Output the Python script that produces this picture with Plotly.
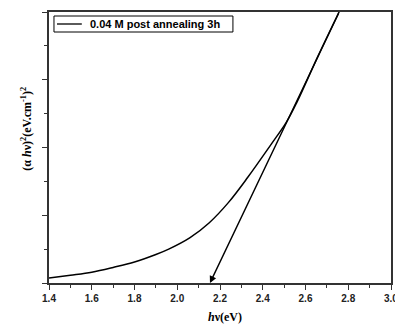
import plotly.graph_objects as go

# photon energy (eV) and (alpha h nu)^2 (arb. units)
energy = [1.40, 1.50, 1.60, 1.70, 1.80, 1.90, 1.96, 2.06, 2.15, 2.24, 2.33, 2.44, 2.51, 2.56, 2.66, 2.76, 2.80]
absorb = [0.074, 0.115, 0.16, 0.23, 0.31, 0.42, 0.50, 0.67, 0.89, 1.19, 1.56, 2.05, 2.37, 2.67, 3.36, 4.02, 4.28]

# tangent (extrapolation) line end points
tangent_x = [2.758, 2.153]
tangent_y = [4.0, 0.0]

series_name = "0.04 M post annealing 3h"
x_ticks = [1.4, 1.6, 1.8, 2.0, 2.2, 2.4, 2.6, 2.8, 3.0]
x_tick_labels = ["1.4", "1.6", "1.8", "2.0", "2.2", "2.4", "2.6", "2.8", "3.0"]

fig = go.Figure()
fig.add_trace(go.Scatter(x=energy, y=absorb, mode="lines",
                         line=dict(color="black", width=1.5, shape="spline", smoothing=1.0),
                         name=series_name, showlegend=False))

fig.add_annotation(x=tangent_x[1], y=tangent_y[1], ax=tangent_x[0], ay=tangent_y[0],
                   xref="x", yref="y", axref="x", ayref="y", text="",
                   showarrow=True, arrowhead=2, arrowsize=1.0, arrowwidth=1.4,
                   arrowcolor="black", standoff=0)

axis_common = dict(showline=True, linecolor="#333", linewidth=1.5, mirror=True,
                   showgrid=False, zeroline=False, ticks="outside",
                   tickcolor="#333", ticklen=5, tickwidth=1)

tick_font = dict(family="Liberation Sans", size=10, color="#222", weight="bold")
fig.update_xaxes(range=[1.4, 3.0], tickvals=x_ticks, ticktext=x_tick_labels,
                 tickfont=tick_font,
                 minor=dict(dtick=0.1, ticks="outside", ticklen=3, tickcolor="#333"),
                 **axis_common)
fig.update_yaxes(range=[0, 4], dtick=1, showticklabels=False,
                 minor=dict(dtick=0.5, ticks="outside", ticklen=3, tickcolor="#333"),
                 **axis_common)

# last tick label, partly cut by the page edge as in the original
fig.add_annotation(xref="x", yref="paper", x=x_ticks[-1], y=-15/271, yanchor="middle",
                   showarrow=False, text=x_tick_labels[-1], font=tick_font)

# manual legend
fig.add_shape(type="rect", xref="paper", yref="paper", x0=5/344, x1=185/344,
              y0=1-20/271, y1=1-4/271, line=dict(color="black", width=1), fillcolor="white")
fig.add_shape(type="line", xref="paper", yref="paper", x0=8/344, x1=33/344,
              y0=1-12/271, y1=1-12/271, line=dict(color="black", width=1.3))
fig.add_annotation(xref="paper", yref="paper", x=39/344, y=1-12/271, xanchor="left",
                   yanchor="middle", showarrow=False, text="<b>" + series_name + "</b>",
                   font=dict(family="Liberation Sans", size=11, color="black"))

# axis titles
fig.add_annotation(xref="paper", yref="paper", x=-33/344, y=(283-129)/271,
                   textangle=-90, showarrow=False,
                   text="<b>(α <i>h</i>ν)<sup>2</sup>(eV.cm<sup>-1</sup>)<sup>2</sup></b>",
                   font=dict(family="Liberation Serif", size=12, color="black"))
fig.add_annotation(xref="paper", yref="paper", x=(226-49)/344, y=-34/271,
                   showarrow=False, yanchor="middle",
                   text="<b><i>h</i>ν(eV)</b>",
                   font=dict(family="Liberation Serif", size=12, color="black"))

fig.update_layout(width=395, height=325, margin=dict(l=49, r=2, t=12, b=42),
                  plot_bgcolor="white", paper_bgcolor="white")
fig.write_html("out.html", config={"displayModeBar": False},
               post_script="document.body.style.margin='0';")
